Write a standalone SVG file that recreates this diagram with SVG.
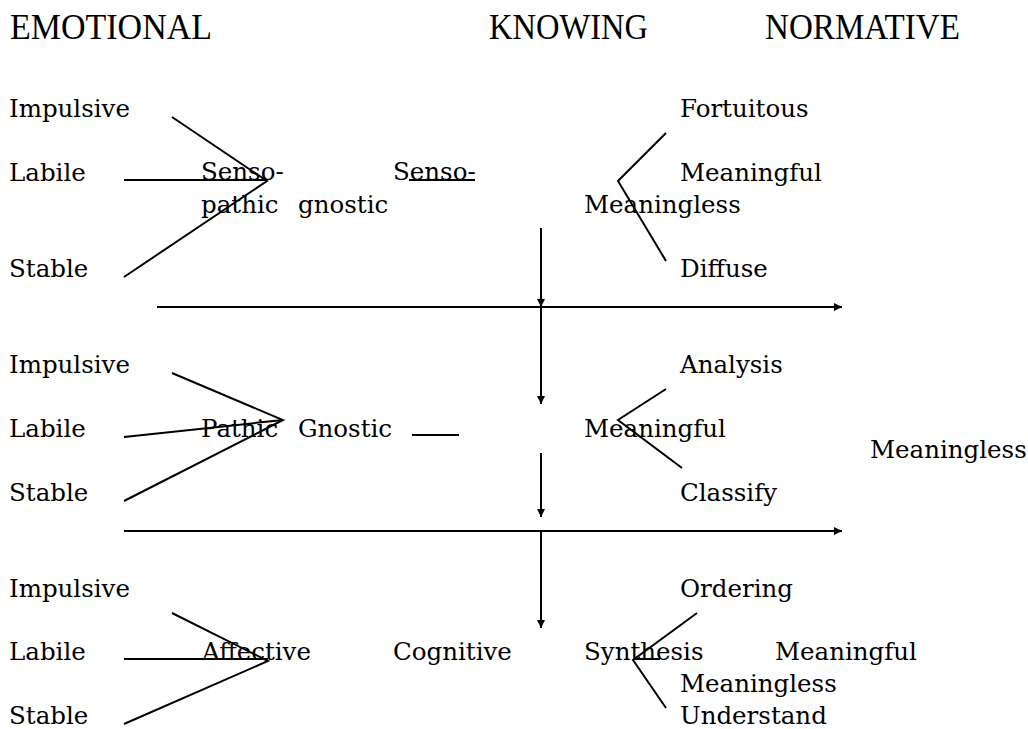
<svg xmlns="http://www.w3.org/2000/svg" width="1028" height="729" viewBox="0 0 1028 729">
<defs>
<marker id="ah" markerWidth="8" markerHeight="8" refX="8" refY="4" orient="auto" markerUnits="userSpaceOnUse">
<path d="M0,0 L8,4 L0,8 Z" fill="#000"/>
</marker>
<style>
.h{font-family:"Liberation Serif","Times New Roman",serif;font-size:35px;fill:#000}
.t{font-family:"DejaVu Serif","Liberation Serif",serif;font-size:24.5px;fill:#000}
.l{stroke:#000;stroke-width:2;fill:none}
.a{stroke:#000;stroke-width:2;fill:none;marker-end:url(#ah)}
</style>
</defs>
<rect width="1028" height="729" fill="#fff"/>
<g id="headers">
<text class="h" x="10" y="39" textLength="202" lengthAdjust="spacingAndGlyphs">EMOTIONAL</text>
<text class="h" x="489" y="39" textLength="159" lengthAdjust="spacingAndGlyphs">KNOWING</text>
<text class="h" x="765" y="39" textLength="195" lengthAdjust="spacingAndGlyphs">NORMATIVE</text>
</g>
<g id="row1">
<text id="r1-impulsive" class="t" x="9" y="117">Impulsive</text>
<text id="r1-labile" class="t" x="9" y="181">Labile</text>
<text id="r1-stable" class="t" x="9" y="277">Stable</text>
<text id="r1-sensopathic" class="t" x="201" y="180">Senso-<tspan x="201" y="213">pathic</tspan></text>
<text id="r1-gnostic" class="t" x="298" y="213">gnostic</text>
<text id="r1-sensognostic" class="t" x="393" y="180">Senso-</text>
<text id="r1-fortuitous" class="t" x="680" y="117">Fortuitous</text>
<text id="r1-meaningful" class="t" x="680" y="181">Meaningful</text>
<text id="r1-meaningless" class="t" x="584" y="213">Meaningless</text>
<text id="r1-diffuse" class="t" x="680" y="277">Diffuse</text>
</g>
<g id="row2">
<text id="r2-impulsive" class="t" x="9" y="373">Impulsive</text>
<text id="r2-labile" class="t" x="9" y="437">Labile</text>
<text id="r2-stable" class="t" x="9" y="501">Stable</text>
<text id="r2-pathic" class="t" x="201" y="437">Pathic</text>
<text id="r2-gnostic" class="t" x="298" y="437">Gnostic</text>
<text id="r2-analysis" class="t" x="680" y="373">Analysis</text>
<text id="r2-meaningful" class="t" x="584" y="437">Meaningful</text>
<text id="r2-meaningless" class="t" x="870" y="458">Meaningless</text>
<text id="r2-classify" class="t" x="680" y="501">Classify</text>
</g>
<g id="row3">
<text id="r3-impulsive" class="t" x="9" y="597">Impulsive</text>
<text id="r3-labile" class="t" x="9" y="660">Labile</text>
<text id="r3-stable" class="t" x="9" y="724">Stable</text>
<text id="r3-affective" class="t" x="202" y="660">Affective</text>
<text id="r3-cognitive" class="t" x="393" y="660">Cognitive</text>
<text id="r3-ordering" class="t" x="680" y="597">Ordering</text>
<text id="r3-synthesis" class="t" x="584" y="660">Synthesis</text>
<text id="r3-meaningful" class="t" x="775" y="660">Meaningful</text>
<text id="r3-meaningless" class="t" x="680" y="692">Meaningless</text>
<text id="r3-understand" class="t" x="680" y="724">Understand</text>
</g>
<g id="connectors">
<polyline class="l" points="172,117 267,181 124,277"/>
<line class="l" x1="124" y1="180" x2="267" y2="180"/>
<line class="l" x1="409" y1="180" x2="475" y2="180"/>
<polyline class="l" points="666,133 618,181 666,261"/>
<line class="a" x1="157" y1="307" x2="842" y2="307"/>
<polyline class="l" points="172,373 283,420 124,501"/>
<line class="l" x1="124" y1="437" x2="283" y2="420"/>
<line class="l" x1="412" y1="435" x2="459" y2="435"/>
<polyline class="l" points="666,389 618,420 682,468"/>
<line class="a" x1="124" y1="531" x2="842" y2="531"/>
<polyline class="l" points="172,613 268,661 124,724"/>
<line class="l" x1="124" y1="659" x2="268" y2="659"/>
<polyline class="l" points="697,613 633,660 666,708"/>
<line class="l" x1="633" y1="659" x2="660" y2="659"/>
<line class="a" x1="541" y1="228" x2="541" y2="307"/>
<line class="a" x1="541" y1="307" x2="541" y2="404"/>
<line class="a" x1="541" y1="453" x2="541" y2="517"/>
<line class="a" x1="541" y1="531" x2="541" y2="628"/>
</g>
</svg>
